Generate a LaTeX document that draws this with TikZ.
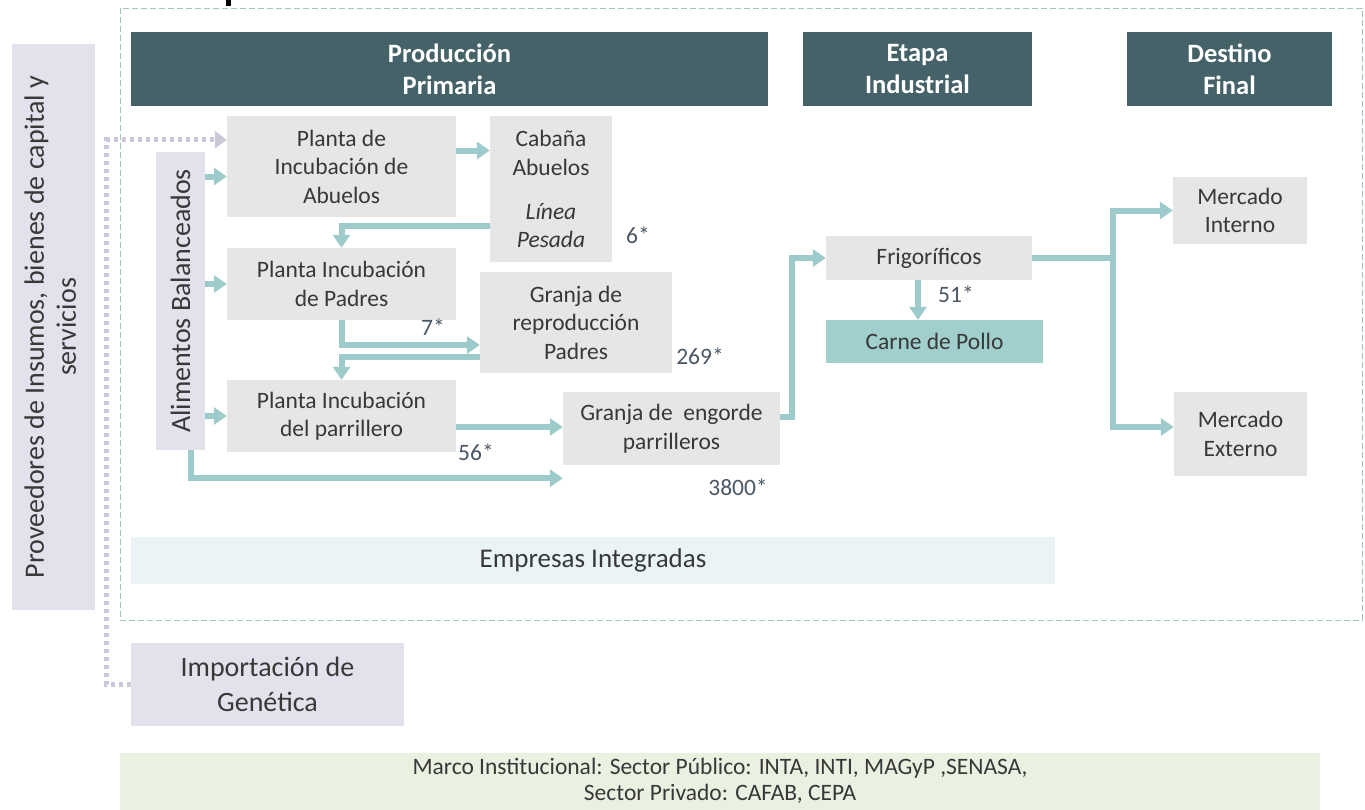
\documentclass[tikz,border=0pt]{standalone}
\usepackage{fontspec}
\setmainfont{Carlito}
\usetikzlibrary{arrows.meta,calc}
\definecolor{hdrc}{HTML}{456268}
\definecolor{boxc}{HTML}{E7E6E6}
\definecolor{lavc}{HTML}{E3E2EC}
\definecolor{tealc}{HTML}{9DCBCB}
\definecolor{carnec}{HTML}{A0CFCE}
\definecolor{empc}{HTML}{EAF3F5}
\definecolor{marcoc}{HTML}{EBF1E0}
\definecolor{txtc}{HTML}{383838}
\definecolor{numc}{HTML}{4A5866}
\definecolor{dashc}{HTML}{A3C1C3}
\definecolor{dotc}{HTML}{CCC8DA}
\begin{document}
\begin{tikzpicture}[x=1pt,y=-1pt,
  every node/.style={inner sep=0pt, align=center, text=txtc},
  gbox/.style={fill=boxc, font=\fontsize{23.5}{28.5}\selectfont},
  lbox/.style={fill=lavc, font=\fontsize{28}{34}\selectfont},
  hdr/.style={fill=hdrc, text=white, font=\fontsize{26.5}{32}\selectfont\bfseries},
  num/.style={text=numc, font=\fontsize{23.5}{28}\selectfont},
  flow/.style={draw=tealc, line width=6pt, -{Triangle[width=17pt,length=13pt]}},
  dotline/.style={draw=dotc, line width=5pt, dash pattern=on 4pt off 4pt, -{Triangle[width=17pt,length=12pt,fill=dotc]}}
]
\useasboundingbox (0,0) rectangle (1365,809);
% outer dashed frame
\draw[dashc, line width=1pt, dash pattern=on 6pt off 3pt] (120,8) rectangle (1362,620);
\fill[black] (226,0) rectangle (231,6);

% headers
\node[hdr, minimum width=637pt, minimum height=74pt] (hprod) at (449.5,69) {Producción\\Primaria};
\node[hdr, minimum width=229pt, minimum height=74pt] (hetapa) at (917.5,69) {Etapa\\Industrial};
\node[hdr, minimum width=205pt, minimum height=74pt] (hdest) at (1229.5,69) {Destino\\Final};

% side boxes
\node[lbox, minimum width=83pt, minimum height=566pt, font=\fontsize{28}{32}\selectfont] (prov) at (53.5,327)
  {\rotatebox{90}{\begin{tabular}{@{}c@{}}Proveedores de Insumos, bienes de capital y\\servicios\end{tabular}}};
\node[lbox, minimum width=49pt, minimum height=298pt] (alim) at (180.5,301) {\rotatebox{90}{Alimentos Balanceados}};

% process boxes
\node[gbox, minimum width=229pt, minimum height=101pt] (pab) at (341.5,166.5) {Planta de\\Incubación de\\Abuelos};
\node[gbox, minimum width=122pt, minimum height=146pt] (cab) at (551,189) {Cabaña\\Abuelos\\[15.5pt]\textit{Línea}\\\textit{Pesada}};
\node[gbox, minimum width=229pt, minimum height=72pt] (ppa) at (341.5,284) {Planta Incubación\\de Padres};
\node[gbox, minimum width=192pt, minimum height=101pt] (grep) at (576,322.5) {Granja de\\reproducción\\Padres};
\node[gbox, minimum width=229pt, minimum height=72pt] (ppar) at (341.5,416) {Planta Incubación\\del parrillero};
\node[gbox, minimum width=217pt, minimum height=73pt] (geng) at (671.5,428.5) {Granja de\ \ engorde\\parrilleros};
\node[gbox, minimum width=206pt, minimum height=44pt] (frig) at (929,258) {Frigoríficos};
\node[gbox, fill=carnec, minimum width=217pt, minimum height=43pt] (carne) at (934.5,341.5) {Carne de Pollo};
\node[gbox, minimum width=134pt, minimum height=67pt] (mint) at (1240,210.5) {Mercado\\Interno};
\node[gbox, minimum width=133pt, minimum height=84pt] (mext) at (1240.5,434) {Mercado\\Externo};

% bottom boxes
\node[fill=empc, minimum width=924pt, minimum height=47pt, font=\fontsize{27}{32}\selectfont] (emp) at (593,560.5) {Empresas Integradas};
\node[lbox, minimum width=273pt, minimum height=83pt, font=\fontsize{28}{35}\selectfont] (imp) at (267.5,684.5) {Importación de\\Genética};
\node[fill=marcoc, minimum width=1200pt, minimum height=57pt, font=\fontsize{23.5}{26}\selectfont] (marco) at (720,781)
  {Marco Institucional: Sector Público: INTA, INTI, MAGyP ,SENASA,\\Sector Privado: CAFAB, CEPA};

% numbers
\node[num] (n6) at (638,235) {6*};
\node[num] (n7) at (433,327) {7*};
\node[num] (n269) at (700,356) {269*};
\node[num] (n56) at (476,452) {56*};
\node[num] (n3800) at (738,487) {3800*};
\node[num] (n51) at (956,294) {51*};

% coordinates
\coordinate (c1) at ($(pab.east)+(0,-16)$);
\coordinate (c2) at ($(cab.west)+(0,37)$);
\coordinate (c3) at ($(grep.west)+(0,22.5)$);
\coordinate (c4) at ($(grep.west)+(0,34)$);
\coordinate (c5) at ($(ppar.east)+(0,11)$);
\coordinate (c6) at ($(geng.east)+(0,-12)$);
\coordinate (c7) at ($(frig.south)+(-11,0)$);
\coordinate (c8) at ($(mext.west)+(0,-7)$);
\coordinate (c9) at ($(alim.south)+(10,0)$);
\coordinate (c10) at ($(geng.south west)+(0,13)$);
\coordinate (c11) at ($(pab.north west)+(0,24)$);
\coordinate (c12) at ($(alim.east|-pab.west)+(0,10)$);

% connectors
\draw[flow] (c12) -- (c12 -| pab.west);
\draw[flow] (alim.east |- ppa.west) -- (ppa.west);
\draw[flow] (alim.east |- ppar.west) -- (ppar.west);
\draw[flow] (c9) |- (c10);
\draw[flow] (c1) -- (c1 -| cab.west);
\draw[flow] (c2) -| (ppa.north);
\draw[flow] (ppa.south) |- (c3);
\draw[flow] (c4) -| (ppar.north);
\draw[flow] (c5) -- (c5 -| geng.west);
\draw[flow] (c6) -- ++(12,0) |- (frig.west);
\draw[flow] (c7) -- (c7 |- carne.north);
\draw[flow] (frig.east) -- ++(81,0) |- (mint.west);
\draw[flow] (frig.east) -- ++(81,0) |- (c8);
\draw[dotline] (imp.west) -- ++(-24,0) |- (c11);
\end{tikzpicture}
\end{document}
